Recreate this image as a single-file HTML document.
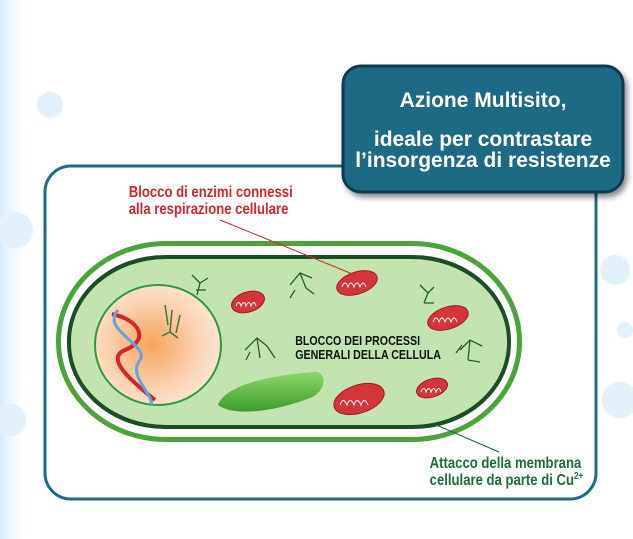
<!DOCTYPE html>
<html><head><meta charset="utf-8"><style>
html,body{margin:0;padding:0;background:#fff;}
body{width:633px;height:539px;overflow:hidden;position:relative;font-family:"Liberation Sans",sans-serif;}
</style></head><body>
<svg width="633" height="539" viewBox="0 0 633 539" xmlns="http://www.w3.org/2000/svg" style="position:absolute;left:0;top:0">
<defs>
<linearGradient id="lb" x1="0" x2="1"><stop offset="0" stop-color="#d6ecfa"/><stop offset="1" stop-color="#fff" stop-opacity="0"/></linearGradient>
<radialGradient id="nuc" cx="0.45" cy="0.5" r="0.6"><stop offset="0" stop-color="#f7a35a"/><stop offset="0.6" stop-color="#fbd2b0"/><stop offset="1" stop-color="#fde9dc"/></radialGradient>
<linearGradient id="chl" x1="0" y1="0" x2="0" y2="1"><stop offset="0" stop-color="#8fd86a"/><stop offset="1" stop-color="#3a9e2a"/></linearGradient>
<filter id="sh" x="-10%" y="-10%" width="130%" height="130%"><feDropShadow dx="3" dy="4" stdDeviation="3" flood-color="#000" flood-opacity="0.45"/></filter>
</defs>
<rect x="0" y="0" width="30" height="539" fill="url(#lb)"/>
<g fill="#e3f1fb"><circle cx="50" cy="105" r="13"/><circle cx="15" cy="230" r="18"/><circle cx="70" cy="180" r="10"/><circle cx="10" cy="420" r="16"/><circle cx="615" cy="270" r="15"/><circle cx="620" cy="400" r="18"/><circle cx="625" cy="330" r="8"/></g>
<rect x="45" y="166" width="551" height="333" rx="26" fill="#fff" stroke="#1f6b86" stroke-width="3"/>
<!-- cell -->
<rect x="56" y="241" width="466" height="201" rx="110" ry="100" fill="#4aa43a"/>
<rect x="61" y="246" width="456" height="191" rx="105" ry="95" fill="#fff"/>
<rect x="67" y="255" width="444" height="174" rx="98" ry="86" fill="#1d4d26"/>
<rect x="71" y="259" width="436" height="166" rx="95" ry="82" fill="#c3e3b1"/>
<ellipse cx="158" cy="345" rx="63" ry="60" fill="url(#nuc)" stroke="#2e9a3c" stroke-width="2"/>
<!-- DNA -->
<path d="M112 314 C140 320,150 340,125 350 C105 358,130 380,155 400" fill="none" stroke="#d3262a" stroke-width="4"/>
<path d="M118 310 C100 330,150 345,140 360 C128 375,150 390,152 405" fill="none" stroke="#5fa7d8" stroke-width="3"/>
<path d="M165 305 l3 20 M172 310 l-2 22 l8 6 M180 315 l-4 18 M170 332 l-8 4" fill="none" stroke="#2e7d3a" stroke-width="1.5"/>
<!-- chloroplast -->
<path d="M218 405 C225 385,270 375,315 372 C328 372,326 392,310 398 C280 410,235 418,218 405Z" fill="url(#chl)"/>
<!-- mitochondria -->
<g fill="#d4353a" stroke="#a01a20" stroke-width="1">
<ellipse cx="357" cy="283" rx="21" ry="11" transform="rotate(-18 357 283)"/>
<ellipse cx="248" cy="302" rx="17" ry="10" transform="rotate(-18 248 302)"/>
<ellipse cx="448" cy="318" rx="21" ry="11" transform="rotate(-18 448 318)"/>
<ellipse cx="359" cy="399" rx="26" ry="14" transform="rotate(-18 359 399)"/>
<ellipse cx="432" cy="388" rx="16" ry="9" transform="rotate(-18 432 388)"/>
</g>
<g fill="none" stroke="#fff" stroke-width="1">
<path d="M342 287 q3-8 6 0 q3-8 6 0 q3-8 6 0 q3-8 6 0"/>
<path d="M236 306 q3-7 5 0 q3-7 5 0 q3-7 5 0 q3-7 5 0"/>
<path d="M433 322 q3-8 6 0 q3-8 6 0 q3-8 6 0 q3-8 6 0"/>
<path d="M340 405 q3-9 7 0 q3-9 7 0 q3-9 7 0 q3-9 7 0"/>
<path d="M421 392 q3-7 5 0 q3-7 5 0 q3-7 5 0 q3-7 5 0"/>
</g>
<!-- ribosome scribbles -->
<g fill="none" stroke="#1f5e2e" stroke-width="1.3">
<path d="M192 275 l8 8 l-3 12 M200 283 l8-5 M196 290 l10 0"/>
<path d="M290 285 l10 -12 l6 15 M300 273 l12 5 M295 290 l-5 8 M306 288 l8 6"/>
<path d="M420 285 l8 8 l-4 10 M428 293 l6-6 M424 303 l10 0"/>
<path d="M245 350 l12-12 l10 8 M257 338 l3 20 M267 346 l8 12 M250 352 l-4 8"/>
<path d="M460 350 l10-10 l12 6 M470 340 l-2 20 M468 360 l12 2 M462 345 l-6 8"/>
</g>
<!-- leader lines -->
<line x1="220" y1="220" x2="355" y2="275" stroke="#d3262a" stroke-width="1"/>
<line x1="434" y1="424" x2="499" y2="452" stroke="#1d5e5e" stroke-width="1"/>
<!-- label box -->
<rect x="343" y="66" width="280" height="126" rx="18" fill="#1f6b86" stroke="#0e3b4f" stroke-width="3" filter="url(#sh)"/>
<g font-family="'Liberation Sans',sans-serif" font-weight="bold" fill="#fff" text-anchor="middle" font-size="21">
<text x="483" y="107">Azione Multisito,</text>
<text x="483" y="146">ideale per contrastare</text>
<text x="483" y="167">l’insorgenza di resistenze</text>
</g>
<g font-family="'Liberation Sans',sans-serif" font-weight="bold" font-size="16" transform="scale(0.82 1)">
<text x="157" y="197" fill="#d3262a">Blocco di enzimi connessi</text>
<text x="157" y="214" fill="#d3262a">alla respirazione cellulare</text>
<text x="524" y="468" fill="#1f6b3a">Attacco della membrana</text>
<text x="524" y="485" fill="#1f6b3a">cellulare da parte di Cu<tspan font-size="10" dy="-6">2+</tspan></text>
</g>
<g font-family="'Liberation Sans',sans-serif" font-weight="bold" font-size="13" transform="scale(0.82 1)">
<text x="360" y="345" fill="#111">BLOCCO DEI PROCESSI</text>
<text x="360" y="359" fill="#111">GENERALI DELLA CELLULA</text>
</g>
</svg>
</body></html>
